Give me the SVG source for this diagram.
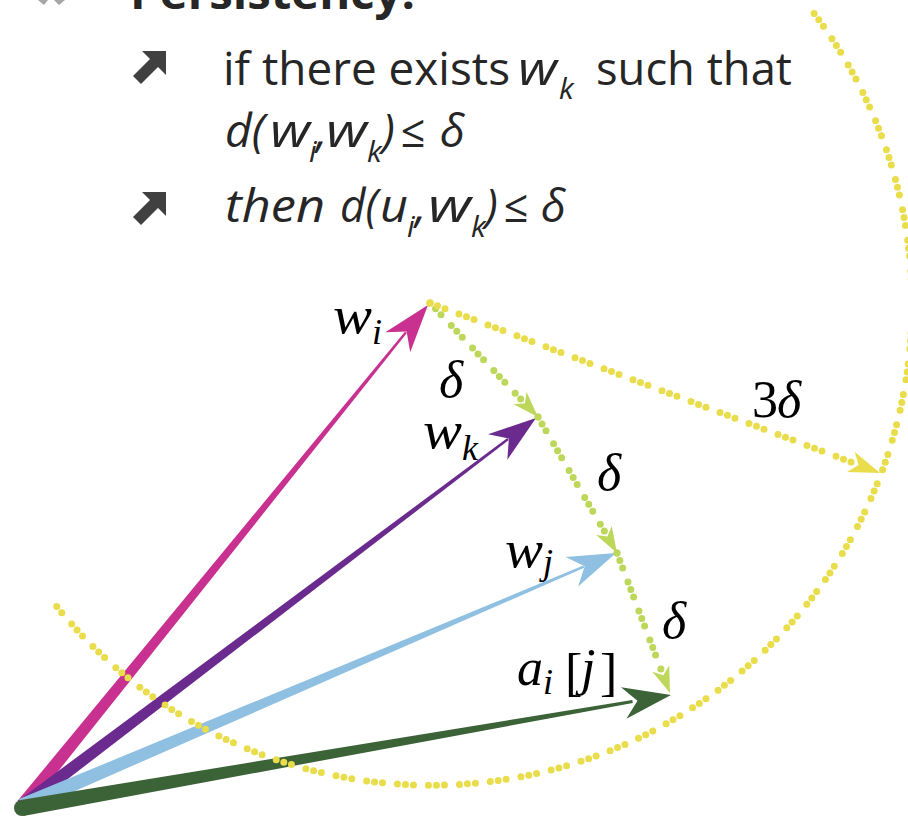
<svg xmlns="http://www.w3.org/2000/svg" width="908" height="819" viewBox="0 0 908 819">
<defs>
<style>
.t{font-family:"Open Sans","Liberation Sans",sans-serif;font-size:45px;fill:#262626}
.ti{font-family:"Open Sans","Liberation Sans",sans-serif;font-size:45px;fill:#262626;font-style:italic}
.ts{font-family:"Open Sans","Liberation Sans",sans-serif;font-size:30px;fill:#262626;font-style:italic}
.m{font-family:"Liberation Serif","DejaVu Serif",serif;font-size:52px;font-style:italic;fill:#000}
.mu{font-family:"Liberation Serif","DejaVu Serif",serif;font-size:52px;fill:#000}
.ms{font-family:"Liberation Serif","DejaVu Serif",serif;font-size:36px;font-style:italic;fill:#000}
.dy{fill:none;stroke:#E9DD4C;stroke-width:7;stroke-linecap:round;stroke-dasharray:0 8 0 8 0 15}
.dg{fill:none;stroke:#BDD75A;stroke-width:7;stroke-linecap:round;stroke-dasharray:0 8 0 8 0 15}
</style>
<path id="vhead" d="M0,0 L-48,-16 L-34,0 L-48,16 Z"/>
<path id="dhead" d="M0,0 L-26,-9 L-19,0 L-26,9 Z"/>
<path id="bullet" d="M142,51 L166,51 L166,75 L158,67 L141,84 L133,76 L150,59 Z"/>
</defs>

<g id="header">
<path d="M38,0 L48,0 L44,5 Z M54,0 L65,0 L59,5 Z" fill="#A6A6A6"/>
<text class="t" x="130" y="9" font-weight="bold" textLength="285" lengthAdjust="spacingAndGlyphs">Persistency:</text>
</g>

<g id="bullets">
<use href="#bullet" fill="#404040"/>
<use href="#bullet" fill="#404040" transform="translate(0,141)"/>
<text class="t" x="223" y="85" textLength="287" lengthAdjust="spacingAndGlyphs">if there exists</text>
<text class="ti" x="518" y="85" textLength="39" lengthAdjust="spacingAndGlyphs">w</text>
<text class="ts" x="559" y="99">k</text>
<text class="t" x="596" y="85" textLength="196" lengthAdjust="spacingAndGlyphs">such that</text>

<text class="ti" x="225" y="147" textLength="40" lengthAdjust="spacingAndGlyphs">d(</text>
<text class="ti" x="270" y="147" textLength="40" lengthAdjust="spacingAndGlyphs">w</text>
<text class="ts" x="309" y="162">i</text>
<text class="ti" x="316" y="147">,</text>
<text class="ti" x="326" y="147" textLength="41" lengthAdjust="spacingAndGlyphs">w</text>
<text class="ts" x="367" y="162">k</text>
<text class="ti" x="382" y="147">)</text>
<text class="ti" x="400" y="147">≤</text>
<text class="ti" x="440" y="147">δ</text>

<text class="ti" x="225" y="222" textLength="100" lengthAdjust="spacingAndGlyphs">then</text>
<text class="ti" x="340" y="222" textLength="38" lengthAdjust="spacingAndGlyphs">d(</text>
<text class="ti" x="380" y="222" textLength="28" lengthAdjust="spacingAndGlyphs">u</text>
<text class="ts" x="407" y="237">i</text>
<text class="ti" x="415" y="222">,</text>
<text class="ti" x="428" y="222" textLength="43" lengthAdjust="spacingAndGlyphs">w</text>
<text class="ts" x="471" y="237">k</text>
<text class="ti" x="485" y="222">)</text>
<text class="ti" x="503" y="222">≤</text>
<text class="ti" x="541" y="222">δ</text>
</g>

<g id="vector-wi">
<polygon points="26.7,810.8 406.9,333.0 405.1,331.4 17.3,801.2" fill="#C8318F"/>
<use href="#vhead" fill="#C8318F" transform="translate(428,305) rotate(-51)"/>
</g>
<g id="vector-wk">
<polygon points="25.9,811.2 508.8,440.1 507.4,438.1 18.1,800.8" fill="#6B2A8D"/>
<use href="#vhead" fill="#6B2A8D" transform="translate(536,418) rotate(-37.05)"/>
</g>
<g id="vector-wj">
<polygon points="24.9,812.9 584.3,567.8 583.3,565.6 19.1,799.1" fill="#8FC0E2"/>
<use href="#vhead" fill="#8FC0E2" transform="translate(616,553) rotate(-23.07)"/>
</g>
<g id="vector-aij">
<circle cx="22" cy="808" r="8" fill="#3B6337"/>
<polygon points="23.4,815.9 632.8,702.9 632.3,699.9 20.6,800.1" fill="#3B6337"/>
<use href="#vhead" fill="#3B6337" transform="translate(671,695) rotate(-9.72)"/>
</g>

<g id="connectors">
<path class="dg" d="M430,303 L524,402.5"/>
<use href="#dhead" fill="#BDD75A" transform="translate(538,417) rotate(46.5)"/>
<circle cx="538" cy="417" r="3.5" fill="#BDD75A"/>
<path class="dg" d="M538,417 L607,535.7"/>
<use href="#dhead" fill="#BDD75A" transform="translate(617,553) rotate(59.85)"/>
<circle cx="617" cy="553" r="3.5" fill="#BDD75A"/>
<path class="dg" d="M617,553 L662.9,674.3"/>
<use href="#dhead" fill="#BDD75A" transform="translate(670,693) rotate(69.3)"/>

<path class="dy" d="M430,303 L855.7,463.8"/>
<use href="#dhead" fill="#E9DD4C" transform="translate(880,473) rotate(20.7) scale(1.2)"/>
<path class="dy" d="M814.1,13.5 A481,481 0 0 1 53,601.8"/>
<circle cx="430" cy="303" r="3.5" fill="#E9DD4C"/>
</g>

<g id="labels">
<text class="m" x="333" y="333" textLength="39" lengthAdjust="spacingAndGlyphs">w</text>
<text class="ms" x="372" y="344">i</text>
<text class="m" x="439" y="397">δ</text>
<text class="m" x="423" y="448" textLength="39" lengthAdjust="spacingAndGlyphs">w</text>
<text class="ms" x="462" y="460">k</text>
<text class="mu" x="752" y="417">3</text>
<text class="m" x="777" y="417">δ</text>
<text class="m" x="597" y="490">δ</text>
<text class="m" x="505" y="567" textLength="38" lengthAdjust="spacingAndGlyphs">w</text>
<text class="ms" x="543" y="574">j</text>
<text class="m" x="662" y="638">δ</text>
<text class="m" x="517" y="685">a</text>
<text class="ms" x="543" y="694">i</text>
<text class="mu" x="565" y="690">[</text>
<text class="m" x="581" y="685">j</text>
<text class="mu" x="600" y="690">]</text>
</g>
</svg>
